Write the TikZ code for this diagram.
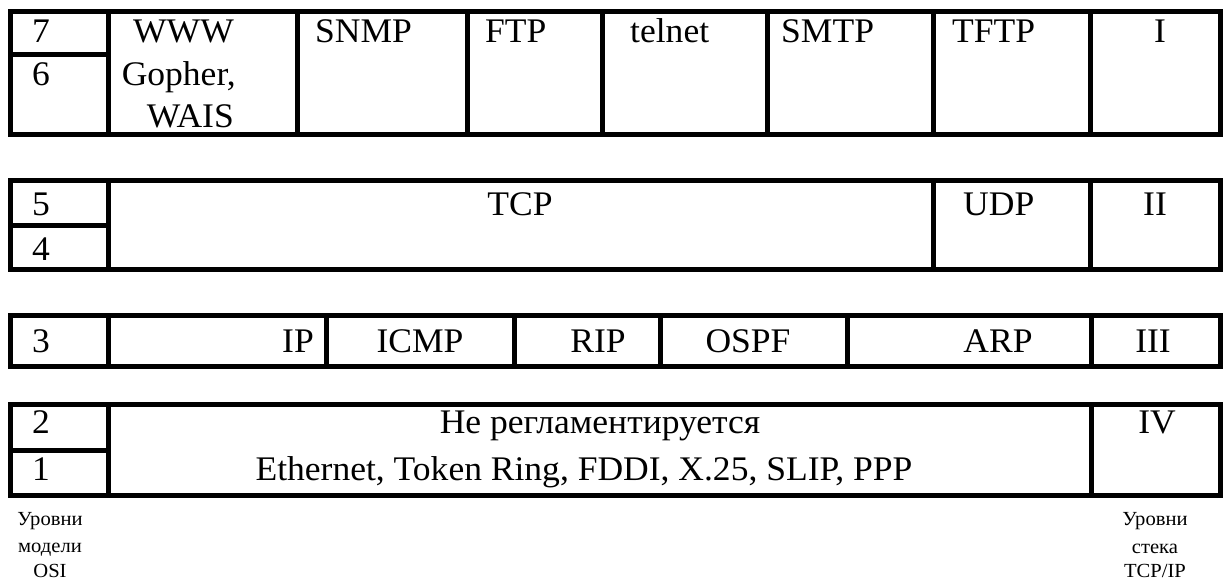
\documentclass[tikz,border=0pt]{standalone}
\usepackage{fontspec}
\setmainfont[FakeStretch=1.03]{Liberation Serif}
\begin{document}
\begin{tikzpicture}[x=1pt,y=-1pt,
  rule/.style={line width=5pt},
  cell/.style={font=\fontsize{34.5}{40}\selectfont, inner sep=0pt},
  note/.style={font=\fontsize{20}{25}\selectfont, inner sep=0pt, anchor=base},
]
\useasboundingbox (0,0) rectangle (1223,580);

% application layer block
\draw[rule] (10,12) rectangle (1220,135);
\draw[rule] (10,55) -- (108,55);
\foreach \x in {108,297,467,602,767,933,1090} \draw[rule] (\x,12) -- (\x,135);

% transport layer block
\draw[rule] (10,181) rectangle (1220,269);
\draw[rule] (10,225) -- (108,225);
\foreach \x in {108,933,1090} \draw[rule] (\x,181) -- (\x,269);

% internet layer block
\draw[rule] (10,315) rectangle (1220,366);
\foreach \x in {108,326,514,660,847,1091} \draw[rule] (\x,315) -- (\x,366);

% network access block
\draw[rule] (10,404) rectangle (1220,495);
\draw[rule] (10,450) -- (108,450);
\foreach \x in {108,1091} \draw[rule] (\x,404) -- (\x,495);

% OSI level numbers
\node[cell, anchor=base west] (o7) at (32,43) {7};
\node[cell, anchor=base west] (o6) at (32,86) {6};
\node[cell, anchor=base west] (o5) at (32,215) {5};
\node[cell, anchor=base west] (o4) at (32,260) {4};
\node[cell, anchor=base west] (o3) at (32,352) {3};
\node[cell, anchor=base west] (o2) at (32,433) {2};
\node[cell, anchor=base west] (o1) at (32,480) {1};

% application protocols
\node[cell, anchor=base east] (www) at (234,43) {WWW};
\node[cell, anchor=base east] (gopher) at (236,86) {Gopher,};
\node[cell, anchor=base east] (wais) at (234,128) {WAIS};
\node[cell, anchor=base west] (snmp) at (315,43) {SNMP};
\node[cell, anchor=base west] (ftp) at (485,43) {FTP};
\node[cell, anchor=base west] (telnet) at (630,43) {telnet};
\node[cell, anchor=base west] (smtp) at (781,43) {SMTP};
\node[cell, anchor=base west] (tftp) at (952,43) {TFTP};
\node[cell, anchor=base] (s1) at (1160,43) {I};

% transport protocols
\node[cell, anchor=base] (tcp) at (520,215) {TCP};
\node[cell, anchor=base west] (udp) at (963,215) {UDP};
\node[cell, anchor=base] (s2) at (1155,215) {II};

% internet protocols
\node[cell, anchor=base] (ip) at (298,352) {IP};
\node[cell, anchor=base] (icmp) at (420,352) {ICMP};
\node[cell, anchor=base] (rip) at (598,352) {RIP};
\node[cell, anchor=base] (ospf) at (748,352) {OSPF};
\node[cell, anchor=base] (arp) at (998,352) {ARP};
\node[cell, anchor=base] (s3) at (1153,352) {III};

% network access
\node[cell, anchor=base] (nreg) at (600,433) {Не регламентируется};
\node[cell, anchor=base] (links) at (584,480) {Ethernet, Token Ring, FDDI, X.25, SLIP, PPP};
\node[cell, anchor=base] (s4) at (1157,433) {IV};

% column captions
\node[note] (osiA) at (50,525) {Уровни};
\node[note] (osiB) at (50,552) {модели};
\node[note] (osiC) at (50,577) {OSI};
\node[note] (tcpA) at (1155,525) {Уровни};
\node[note] (tcpB) at (1155,553) {стека};
\node[note] (tcpC) at (1155,577) {TCP/IP};
\end{tikzpicture}
\end{document}
